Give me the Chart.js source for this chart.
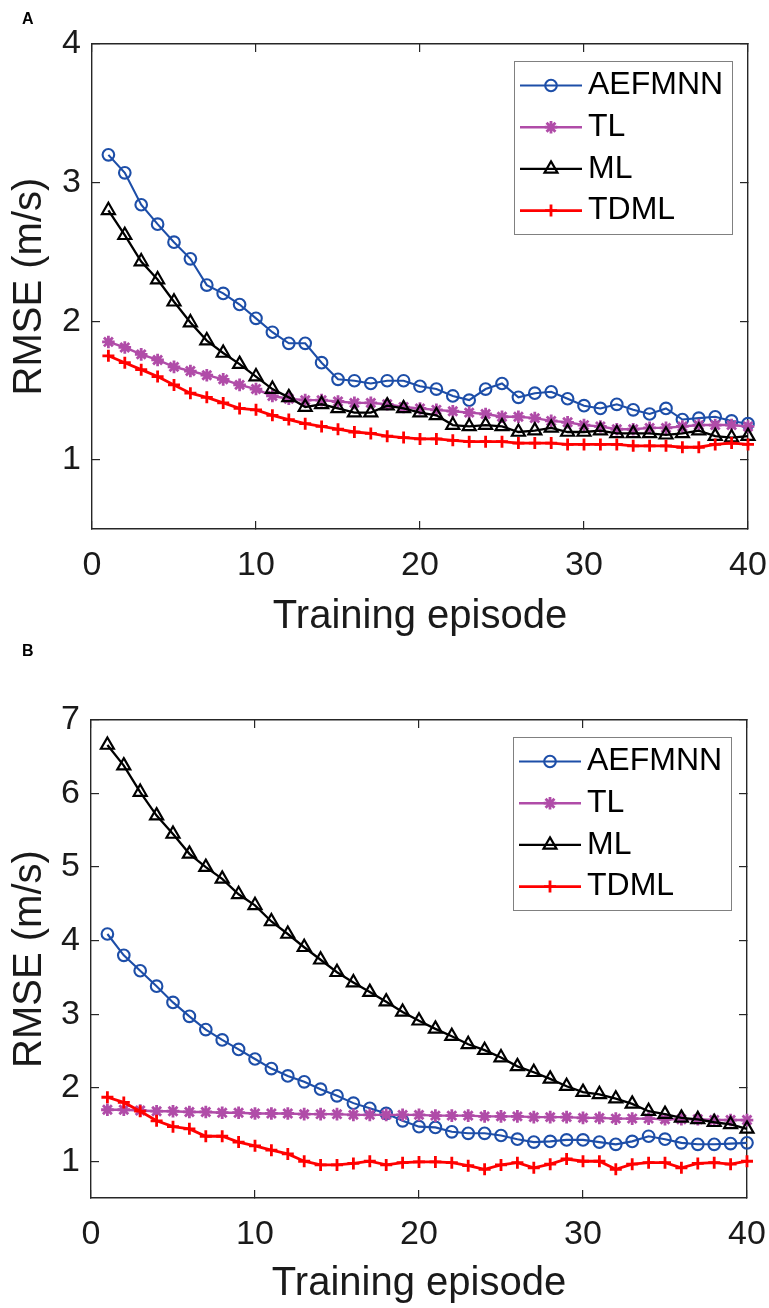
<!DOCTYPE html>
<html>
<head>
<meta charset="utf-8">
<script src="https://cdn.jsdelivr.net/npm/chart.js@4.4.0/dist/chart.umd.min.js"></script>
<style>
  html, body { margin: 0; padding: 0; background: #fff; }
  #page { position: relative; width: 769px; height: 1308px; overflow: hidden; }
  canvas { position: absolute; left: 0; }
  .tag { position: absolute; left: 22px; font-family: 'Liberation Sans', Arial, sans-serif; font-weight: bold; font-size: 16px; line-height: 16px; color: #000; }
</style>
</head>
<body>
<div id="page">
  <canvas id="chart-a" width="769" height="650" style="top:0px"></canvas>
  <canvas id="chart-b" width="769" height="658" style="top:650px"></canvas>
  <div class="tag" style="top:11px">A</div>
  <div class="tag" style="top:643px">B</div>
</div>
<script>
// Datos (RMSE por episodio de entrenamiento)
const episodes = [1, 2, 3, 4, 5, 6, 7, 8, 9, 10, 11, 12, 13, 14, 15, 16, 17, 18, 19, 20,
                  21, 22, 23, 24, 25, 26, 27, 28, 29, 30, 31, 32, 33, 34, 35, 36, 37, 38, 39, 40];
const xTicks = [0, 10, 20, 30, 40];
const yTicksA = [1, 2, 3, 4];
const yTicksB = [1, 2, 3, 4, 5, 6, 7];
const seriesNames = ['AEFMNN', 'TL', 'ML', 'TDML'];

// Panel A
const aefmnnA = [3.20, 3.07, 2.84, 2.70, 2.57, 2.45, 2.26, 2.20, 2.12, 2.02, 1.92, 1.84, 1.84, 1.70, 1.58, 1.57, 1.55, 1.57, 1.57, 1.53,
                 1.51, 1.46, 1.43, 1.51, 1.55, 1.45, 1.48, 1.49, 1.44, 1.39, 1.37, 1.40, 1.36, 1.33, 1.37, 1.29, 1.30, 1.31, 1.28, 1.26];
const tlA     = [1.85, 1.81, 1.76, 1.72, 1.67, 1.64, 1.61, 1.58, 1.54, 1.51, 1.46, 1.44, 1.43, 1.43, 1.42, 1.41, 1.41, 1.40, 1.38, 1.37,
                 1.36, 1.35, 1.34, 1.33, 1.31, 1.31, 1.30, 1.28, 1.27, 1.25, 1.24, 1.22, 1.22, 1.23, 1.23, 1.24, 1.25, 1.25, 1.25, 1.24];
const mlA     = [2.80, 2.62, 2.43, 2.30, 2.14, 1.99, 1.86, 1.77, 1.69, 1.60, 1.51, 1.45, 1.38, 1.40, 1.37, 1.34, 1.34, 1.39, 1.37, 1.34,
                 1.32, 1.25, 1.24, 1.25, 1.24, 1.20, 1.21, 1.23, 1.20, 1.20, 1.21, 1.19, 1.19, 1.19, 1.18, 1.19, 1.21, 1.17, 1.16, 1.17];
const tdmlA   = [1.75, 1.70, 1.65, 1.60, 1.54, 1.48, 1.45, 1.41, 1.37, 1.36, 1.32, 1.29, 1.26, 1.24, 1.22, 1.20, 1.19, 1.17, 1.16, 1.15,
                 1.15, 1.14, 1.13, 1.13, 1.13, 1.12, 1.12, 1.12, 1.11, 1.11, 1.11, 1.11, 1.10, 1.10, 1.10, 1.09, 1.09, 1.11, 1.12, 1.11];

// Panel B
const aefmnnB = [4.09, 3.80, 3.59, 3.38, 3.16, 2.97, 2.79, 2.65, 2.52, 2.39, 2.26, 2.16, 2.08, 1.98, 1.89, 1.79, 1.72, 1.65, 1.55, 1.47,
                 1.46, 1.40, 1.38, 1.38, 1.35, 1.30, 1.26, 1.27, 1.29, 1.29, 1.26, 1.23, 1.27, 1.34, 1.30, 1.25, 1.23, 1.23, 1.24, 1.25];
const tlB     = [1.70, 1.70, 1.69, 1.68, 1.68, 1.67, 1.67, 1.66, 1.66, 1.65, 1.65, 1.65, 1.64, 1.64, 1.64, 1.63, 1.63, 1.63, 1.63, 1.63,
                 1.62, 1.62, 1.62, 1.61, 1.61, 1.61, 1.60, 1.60, 1.60, 1.59, 1.59, 1.58, 1.58, 1.58, 1.57, 1.57, 1.57, 1.56, 1.56, 1.56];
const mlB     = [6.66, 6.38, 6.02, 5.70, 5.45, 5.18, 5.00, 4.84, 4.63, 4.48, 4.26, 4.09, 3.91, 3.74, 3.57, 3.43, 3.30, 3.17, 3.03, 2.91,
                 2.80, 2.70, 2.59, 2.51, 2.41, 2.29, 2.21, 2.12, 2.02, 1.94, 1.91, 1.85, 1.78, 1.68, 1.64, 1.59, 1.57, 1.53, 1.50, 1.44];
const tdmlB   = [1.87, 1.80, 1.68, 1.55, 1.47, 1.44, 1.34, 1.34, 1.26, 1.21, 1.15, 1.10, 1.00, 0.95, 0.95, 0.97, 1.00, 0.95, 0.98, 0.99,
                 0.99, 0.98, 0.94, 0.89, 0.95, 0.98, 0.91, 0.96, 1.03, 1.00, 1.00, 0.89, 0.96, 0.98, 0.98, 0.91, 0.97, 0.98, 0.96, 1.00];

const fontFamily = "'Liberation Sans', Arial, Helvetica, sans-serif";
const axisColor = '#262626';

// estilo de cada serie (TDML encima, como en la figura)
const seriesStyle = [
    { color: '#1d4ea8', pointStyle: 'circle',   radius: 5.8, line: 2.1, width: 2.1, order: 4 },
    { color: '#b04ca8', pointStyle: 'star',     radius: 6.3, line: 2.4, width: 2.8, order: 3 },
    { color: '#000000', pointStyle: 'triangle', radius: 7.5, line: 2.3, width: 2.2, order: 2 },
    { color: '#ff0000', pointStyle: 'cross',    radius: 6,   line: 2.8, width: 2.8, order: 1 }
];

function buildDatasets(values) {
    return values.map(function(vals, i) {
        const s = seriesStyle[i];
        return {
            label: seriesNames[i],
            data: vals.map(function(v, k) { return { x: episodes[k], y: v }; }),
            borderColor: s.color,
            backgroundColor: 'rgba(0,0,0,0)',
            borderWidth: s.line,
            pointStyle: s.pointStyle,
            pointRadius: s.radius,
            pointBorderWidth: s.width,
            pointBorderColor: s.color,
            pointBackgroundColor: 'rgba(0,0,0,0)',
            tension: 0,
            fill: false,
            clip: false,
            order: s.order
        };
    });
}

// leyenda dentro del area del grafico, con recuadro gris
const boxLegend = {
    id: 'boxLegend',
    afterDatasetsDraw(chart) {
        const { ctx, chartArea } = chart;
        const w = 218, h = 173;
        const left = chartArea.right - 16 - w;
        const top = chartArea.top + 16.5;
        ctx.save();
        ctx.fillStyle = '#ffffff';
        ctx.fillRect(left, top, w, h);
        ctx.strokeStyle = '#808080';
        ctx.lineWidth = 1;
        ctx.strokeRect(Math.round(left) + 0.5, Math.round(top) + 0.5, w, h);
        chart.data.datasets.forEach(function(ds, i) {
            const y = top + 25 + i * 41.7;
            ctx.strokeStyle = ds.borderColor;
            ctx.lineWidth = ds.borderWidth;
            ctx.beginPath();
            ctx.moveTo(left + 6, y);
            ctx.lineTo(left + 68, y);
            ctx.stroke();
            ctx.fillStyle = 'rgba(0,0,0,0)';
            ctx.lineWidth = ds.pointBorderWidth;
            Chart.helpers.drawPoint(ctx, {
                pointStyle: ds.pointStyle,
                radius: ds.pointRadius,
                borderWidth: ds.pointBorderWidth,
                rotation: 0
            }, left + 37, y);
            ctx.fillStyle = '#000000';
            ctx.font = '32px ' + fontFamily;
            ctx.textAlign = 'left';
            ctx.textBaseline = 'middle';
            ctx.fillText(ds.label, left + 74, y);
        });
        ctx.restore();
    }
};

function fixTicks(vals) {
    return function(scale) { scale.ticks = vals.map(function(v) { return { value: v }; }); };
}

function frameScales(yMin, yMax, yTicks, yWidth, xHeight, xTitlePad) {
    const innerGrid = { drawOnChartArea: false, drawTicks: true, tickLength: -8, color: axisColor, lineWidth: 1.2 };
    const border = { display: true, color: axisColor, width: 1.4 };
    return {
        x: {
            type: 'linear', position: 'bottom', min: 0, max: 40,
            afterBuildTicks: fixTicks(xTicks),
            afterFit: function(s) { s.height = xHeight; s.paddingLeft = 0; s.paddingRight = 0; },
            grid: innerGrid, border: border,
            ticks: { color: '#1a1a1a', padding: 24, maxRotation: 0, font: { family: fontFamily, size: 34 } },
            title: { display: true, text: 'Training episode', color: '#1a1a1a',
                     padding: { top: 0, bottom: xTitlePad }, font: { family: fontFamily, size: 40 } }
        },
        x2: {
            type: 'linear', position: 'top', min: 0, max: 40,
            afterBuildTicks: fixTicks(xTicks),
            afterFit: function(s) { s.height = 0; s.paddingLeft = 0; s.paddingRight = 0; },
            grid: innerGrid, border: border,
            ticks: { display: false }
        },
        y: {
            type: 'linear', position: 'left', min: yMin, max: yMax,
            afterBuildTicks: fixTicks(yTicks),
            afterFit: function(s) { s.width = yWidth; s.paddingTop = 0; s.paddingBottom = 0; },
            grid: innerGrid, border: border,
            ticks: { color: '#1a1a1a', padding: 19, font: { family: fontFamily, size: 34 } },
            title: { display: true, text: 'RMSE (m/s)', color: '#1a1a1a',
                     padding: { top: 6, bottom: 0 }, font: { family: fontFamily, size: 40 } }
        },
        y2: {
            type: 'linear', position: 'right', min: yMin, max: yMax,
            afterBuildTicks: fixTicks(yTicks),
            afterFit: function(s) { s.width = 0; s.paddingTop = 0; s.paddingBottom = 0; },
            grid: innerGrid, border: border,
            ticks: { display: false }
        }
    };
}

function createPanel(canvasId, values, yMin, yMax, yTicks, layoutPad, yWidth, xHeight, xTitlePad) {
    const ctx = document.getElementById(canvasId);
    return new Chart(ctx, {
        type: 'line',
        data: { datasets: buildDatasets(values) },
        options: {
            responsive: false,
            animation: false,
            devicePixelRatio: 1,
            layout: { padding: layoutPad, autoPadding: false },
            plugins: { legend: { display: false }, tooltip: { enabled: false } },
            scales: frameScales(yMin, yMax, yTicks, yWidth, xHeight, xTitlePad)
        },
        plugins: [boxLegend]
    });
}

createPanel('chart-a', [aefmnnA, tlA, mlA, tdmlA], 0.5, 4, yTicksA,
            { left: 0, right: 21, top: 44, bottom: 0 }, 92, 121, 9);
createPanel('chart-b', [aefmnnB, tlB, mlB, tdmlB], 0.5, 7, yTicksB,
            { left: 0, right: 22, top: 70, bottom: 0 }, 91, 110, 0);
</script>
</body>
</html>
